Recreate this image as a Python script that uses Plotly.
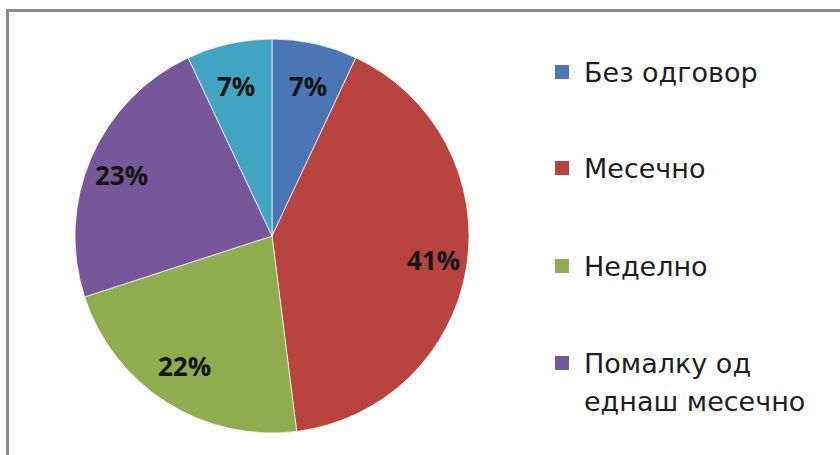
import math
import plotly.graph_objects as go

# Survey answers and their shares (%)
categories = ["Без одговор", "Месечно", "Неделно", "Помалку од еднаш месечно", "Дневно"]
shares = [7, 41, 22, 23, 7]
colors = ["#4A77B4", "#B9433F", "#8FAD4E", "#765799", "#41A5C2"]

# Legend entries (text lines per entry)
legend_lines = [["Без одговор"], ["Месечно"], ["Неделно"], ["Помалку од", "еднаш месечно"]]

W, H = 840, 455
cx, cy, r = 272, 236, 197          # pie centre / radius in pixels
label_rx, label_ry = 0.83 * r, 0.78 * r   # where the percentage labels sit
legend_y = [72, 168, 266, 363]     # vertical centre of each legend entry
line_gap = 38                      # distance between wrapped legend lines
sq_x, sq = 555, 14                 # legend swatch left edge and size
text_x = 582


def px(x):
    return x / W


def py(y):
    return 1 - y / H


fig = go.Figure(
    go.Pie(
        labels=categories,
        values=shares,
        sort=False,
        direction="clockwise",
        rotation=0,
        marker=dict(colors=colors, line=dict(color="rgba(255,255,255,0.7)", width=1)),
        textinfo="none",
        hoverinfo="label+percent",
        domain=dict(x=[px(cx - r), px(cx + r)], y=[py(cy + r), py(cy - r)]),
        showlegend=False,
    )
)

annotations = []

# percentage labels, placed at each slice's mid angle
total = sum(shares)
start = 0.0
for v in shares:
    mid = (start + v / 2) / total * 2 * math.pi
    start += v
    lx = cx + label_rx * math.sin(mid)
    ly = cy - label_ry * math.cos(mid)
    annotations.append(dict(xref="paper", yref="paper", x=px(lx), y=py(ly),
                            xanchor="center", yanchor="middle", showarrow=False,
                            text=f"{v}%",
                            font=dict(family="Open Sans", size=26, color="#151515", weight="bold")))

shapes = [
    # outer frame of the chart area
    dict(type="rect", xref="paper", yref="paper",
         x0=px(7.5), x1=px(W + 20), y0=py(H + 20), y1=py(10.5),
         line=dict(color="#8A8A8A", width=3), fillcolor="rgba(0,0,0,0)", layer="above"),
]

for i, lines in enumerate(legend_lines):
    yc = legend_y[i]
    shapes.append(dict(type="rect", xref="paper", yref="paper",
                       x0=px(sq_x), x1=px(sq_x + sq), y0=py(yc + sq / 2), y1=py(yc - sq / 2),
                       fillcolor=colors[i], line=dict(width=0)))
    for j, line in enumerate(lines):
        annotations.append(dict(xref="paper", yref="paper", x=px(text_x), y=py(yc + j * line_gap),
                                xanchor="left", yanchor="middle", showarrow=False, text=line,
                                font=dict(family="DejaVu Sans", size=27, color="#1E1E1E")))

fig.update_layout(
    width=W, height=H,
    margin=dict(l=0, r=0, t=0, b=0),
    paper_bgcolor="white",
    plot_bgcolor="white",
    shapes=shapes,
    annotations=annotations,
)

fig.write_html("out.html")
